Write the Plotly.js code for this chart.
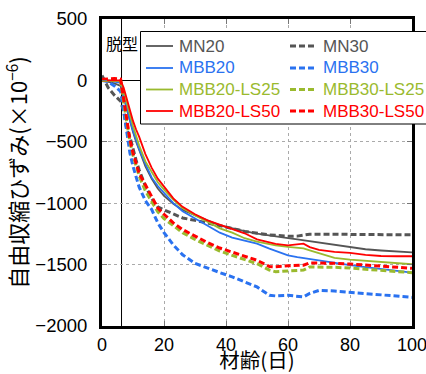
<!DOCTYPE html>
<html><head><meta charset="utf-8">
<script src="https://cdn.plot.ly/plotly-3.0.1.min.js"></script>
<style>html,body{margin:0;padding:0;background:#fff;}#chart{width:426px;height:374px;}</style>
</head><body><div id="chart"></div>
<script>
const days = [0, 2, 4, 6, 7, 8, 9, 10, 11, 12, 14, 16, 18, 20, 23, 26, 30, 34, 38, 42, 46, 50, 54, 56, 60, 63, 65, 67, 70, 75, 80, 85, 90, 95, 100];

const MN20 = [0, -10, -25, -45, -140, -240, -330, -420, -500, -570, -700, -800, -880, -940, -1005, -1055, -1100, -1140, -1180, -1205, -1228, -1248, -1265, -1272, -1285, -1295, -1302, -1308, -1318, -1335, -1355, -1375, -1385, -1395, -1400];
const MN30 = [40, -60, -120, -170, -250, -400, -460, -560, -650, -730, -860, -960, -1030, -1055, -1090, -1120, -1140, -1160, -1185, -1205, -1230, -1247, -1258, -1262, -1270, -1268, -1262, -1252, -1252, -1252, -1252, -1252, -1255, -1258, -1258];
const MBB20 = [0, 0, -10, -20, -120, -230, -320, -410, -490, -560, -680, -790, -860, -916, -1000, -1065, -1125, -1185, -1240, -1280, -1308, -1330, -1370, -1390, -1424, -1440, -1448, -1455, -1465, -1485, -1505, -1520, -1535, -1550, -1566];
const MBB30 = [0, -10, -45, -90, -250, -420, -590, -700, -790, -870, -980, -1050, -1160, -1240, -1340, -1420, -1490, -1530, -1565, -1600, -1640, -1682, -1750, -1755, -1750, -1758, -1763, -1735, -1710, -1715, -1725, -1735, -1745, -1755, -1767];
const MBB20_LS25 = [0, 0, 0, -5, -90, -190, -280, -370, -450, -530, -660, -750, -830, -890, -970, -1040, -1100, -1150, -1205, -1240, -1285, -1312, -1335, -1343, -1356, -1362, -1368, -1384, -1408, -1445, -1460, -1470, -1481, -1490, -1497];
const MBB30_LS25 = [0, 0, 0, 0, -180, -360, -500, -610, -700, -780, -900, -990, -1070, -1125, -1185, -1240, -1295, -1345, -1390, -1425, -1460, -1492, -1545, -1558, -1552, -1548, -1545, -1519, -1519, -1522, -1528, -1538, -1548, -1556, -1566];
const MBB20_LS50 = [0, 0, 0, 0, -60, -150, -244, -330, -400, -460, -600, -710, -800, -868, -960, -1030, -1090, -1140, -1175, -1210, -1245, -1295, -1320, -1332, -1343, -1335, -1330, -1357, -1380, -1397, -1405, -1420, -1430, -1432, -1432];
const MBB30_LS50 = [10, 15, 15, 10, -150, -340, -480, -590, -680, -760, -850, -950, -1040, -1090, -1160, -1215, -1270, -1320, -1365, -1400, -1435, -1465, -1515, -1518, -1510, -1507, -1505, -1486, -1486, -1490, -1495, -1505, -1515, -1522, -1530];

const seriesNames = ['MN20', 'MN30', 'MBB20', 'MBB30', 'MBB20-LS25', 'MBB30-LS25', 'MBB20-LS50', 'MBB30-LS50'];
const seriesData = [MN20, MN30, MBB20, MBB30, MBB20_LS25, MBB30_LS25, MBB20_LS50, MBB30_LS50];
const seriesColors = ['#555555', '#555555', '#2a72f0', '#2a72f0', '#9aba2e', '#9aba2e', '#ff0000', '#ff0000'];
const seriesDashed = [false, true, false, true, false, true, false, true];

const demoldDay = 6.3;
const demoldLabel = '脱型';
const xTitle = '材齢(日)';
const yTitle = '自由収縮ひずみ(×10<sup>−6</sup>)';
const xTickVals = [0, 20, 40, 60, 80, 100];
const yTickVals = [-2000, -1500, -1000, -500, 0, 500];

const W = 426, H = 374;
const M = {l: 102, r: 14, t: 19, b: 48};
const PW = W - M.l - M.r, PH = H - M.t - M.b;
const px2x = p => (p - M.l) / PW;          // pixel -> paper x
const py2y = p => (H - M.b - p) / PH;      // pixel -> paper y

const lineStyle = i => ({color: seriesColors[i], width: seriesDashed[i] ? 3 : 1.8, dash: seriesDashed[i] ? '6px,3px' : 'solid'});

const traces = seriesNames.map((n, i) => ({
  x: days, y: seriesData[i], type: 'scatter', mode: 'lines', name: n, line: lineStyle(i)
}));

// Legend box (two columns, row-major) drawn as shapes + annotations
const legRowsY = [46, 68, 89.5, 111];
const legColX = [146, 290];
const shapes = [
  {type: 'line', xref: 'x', yref: 'paper', x0: demoldDay, x1: demoldDay, y0: 0, y1: 1,
   line: {color: '#000', width: 1}, layer: 'below'},
  {type: 'rect', xref: 'paper', yref: 'paper', x0: px2x(140.5), x1: px2x(460), y0: py2y(124), y1: py2y(31.5),
   line: {color: '#000', width: 1}, fillcolor: '#fff', layer: 'above'}
];
const annotations = [
  {xref: 'x', yref: 'paper', x: demoldDay, y: py2y(42.5), text: demoldLabel, showarrow: false,
   xanchor: 'center', yanchor: 'middle', font: {family: 'Noto Sans CJK JP', size: 16, color: '#000'}}
];
seriesNames.forEach((n, i) => {
  const col = i % 2, row = Math.floor(i / 2);
  const x0 = legColX[col], y = legRowsY[row];
  shapes.push({type: 'line', xref: 'paper', yref: 'paper', x0: px2x(x0), x1: px2x(x0 + 27), y0: py2y(y), y1: py2y(y),
               line: lineStyle(i), layer: 'above'});
  annotations.push({xref: 'paper', yref: 'paper', x: px2x(x0 + 31), y: py2y(y), text: n, showarrow: false,
                    xanchor: 'left', yanchor: 'middle',
                    font: {family: 'Liberation Sans, Arial, sans-serif', size: 17, color: seriesColors[i]}});
});

const axisCommon = {
  showline: true, linecolor: '#000', linewidth: 3, mirror: 'allticks',
  ticks: 'inside', ticklen: 5, tickcolor: '#777', tickwidth: 1,
  showgrid: true, gridcolor: '#aaaaaa', griddash: 'dot', gridwidth: 1,
  ticklabeloverflow: 'allow',
  tickfont: {family: 'Liberation Sans, Arial, sans-serif', size: 18.5, color: '#000'}
};

const layout = {
  width: W, height: H, margin: M,
  paper_bgcolor: '#fff', plot_bgcolor: '#fff',
  showlegend: false,
  xaxis: Object.assign({}, axisCommon, {
    range: [0, 100], tickvals: xTickVals, zeroline: false,
    tickfont: {family: 'Liberation Sans, Arial, sans-serif', size: 18, color: '#000'},
    title: {text: xTitle, font: {family: 'Noto Sans CJK JP', size: 20.5, color: '#000'}}
  }),
  yaxis: Object.assign({}, axisCommon, {
    range: [-2000, 500], tickvals: yTickVals, ticklabelstandoff: 8,
    zeroline: true, zerolinecolor: '#000', zerolinewidth: 1,
    title: {text: yTitle, font: {family: 'Noto Sans CJK JP', size: 22, color: '#000'}, standoff: 2}
  }),
  shapes: shapes,
  annotations: annotations
};

Plotly.newPlot('chart', traces, layout, {displayModeBar: false, staticPlot: true});
</script>
</body></html>
